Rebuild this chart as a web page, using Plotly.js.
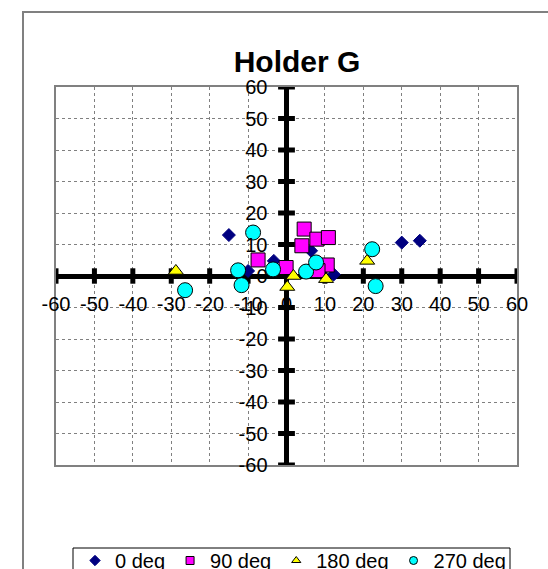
<!DOCTYPE html>
<html>
<head>
<meta charset="utf-8">
<script src="https://cdn.plot.ly/plotly-3.0.1.min.js"></script>
<style>
  html, body { margin: 0; padding: 0; background: #fff; overflow: hidden; }
  #wrap { position: relative; width: 548px; height: 569px; }
  #chart { position: absolute; left: 0; top: 0; width: 548px; height: 569px; }
  #border { position: absolute; left: 22px; top: 11px; width: 700px; height: 700px;
            border: 2px solid #808080; pointer-events: none; box-sizing: border-box; }
</style>
</head>
<body>
<div id="wrap">
  <div id="chart"></div>
  <div id="border"></div>
</div>
<script>
// ---- data ----
const chartTitle = "Holder G";
const seriesNames = ["0 deg", "90 deg", "180 deg", "270 deg"];

const deg0X = [-15, -10, -3.3, 6.4, 12.3, 30, 34.7];
const deg0Y = [13, 1.6, 4.8, 8, 0.5, 10.6, 11.2];

const deg90X = [-7.4, -0.1, 4.6, 4.0, 7.9, 10.9, 10.6, 8.2];
const deg90Y = [5.1, 2.7, 14.9, 9.6, 11.7, 12.2, 3.5, 1.7];

const deg180X = [-28.8, 1.8, 0.2, 10.3, 21];
const deg180Y = [1.6, 0, -3.5, -1, 4.8];

const deg270X = [-8.7, -12.6, -11.7, -3.5, 5.1, 7.7, -26.4, 22.3, 23.2];
const deg270Y = [13.8, 1.8, -2.9, 2.1, 1.4, 4.3, -4.5, 8.5, -3.2];

const tickVals = [-60, -50, -40, -30, -20, -10, 0, 10, 20, 30, 40, 50, 60];
const tickText = tickVals.map(String);
const axisRange = [-60, 60];

// ---- styling ----
const FONT = "Arial, 'Liberation Sans', sans-serif";
const styles = [
  {symbol: "diamond", color: "#000080", line: "#000080", size: 10, lsize: 8},
  {symbol: "square", color: "#FF00FF", line: "#000000", size: 14, lsize: 8},
  {symbol: "triangle-up", color: "#FFFF00", line: "#000000", size: 13, lsize: 8},
  {symbol: "circle", color: "#00FFFF", line: "#000000", size: 15, lsize: 8}
];
const seriesX = [deg0X, deg90X, deg180X, deg270X];
const seriesY = [deg0Y, deg90Y, deg180Y, deg270Y];

const traces = [];
// cross tick marks on the zero axes
traces.push({
  x: tickVals, y: tickVals.map(() => 0), type: "scatter", mode: "markers",
  marker: {symbol: "line-ns", size: 11, line: {width: 5, color: "#000"}},
  showlegend: false, hoverinfo: "skip"
});
traces.push({
  x: tickVals.map(() => 0), y: tickVals, type: "scatter", mode: "markers",
  marker: {symbol: "line-ew", size: 12, line: {width: 5, color: "#000"}},
  showlegend: false, hoverinfo: "skip"
});
// data series
for (let i = 0; i < seriesNames.length; i++) {
  const s = styles[i];
  traces.push({
    x: seriesX[i], y: seriesY[i], type: "scatter", mode: "markers",
    name: seriesNames[i], showlegend: false,
    marker: {symbol: s.symbol, size: s.size, color: s.color, line: {width: 1, color: s.line}}
  });
}
// legend entries (small symbols)
for (let i = 0; i < seriesNames.length; i++) {
  const s = styles[i];
  traces.push({
    x: [null], y: [null], type: "scatter", mode: "markers",
    name: seriesNames[i], showlegend: true,
    marker: {symbol: s.symbol, size: s.lsize, color: s.color, line: {width: 1, color: s.line}}
  });
}
// dummy trace to activate the label axes
traces.push({x: [null], y: [null], xaxis: "x2", yaxis: "y2", type: "scatter",
  mode: "markers", showlegend: false, hoverinfo: "skip"});

const L = 56, R = 31, T = 87, B = 104;
const plotW = 548 - L - R, plotH = 569 - T - B;
const px2x = p => (p - L) / plotW;
const py2y = p => (569 - B - p) / plotH;

const layout = {
  width: 548, height: 569,
  margin: {l: L, r: R, t: T, b: B, autoexpand: false},
  paper_bgcolor: "rgba(0,0,0,0)", plot_bgcolor: "#fff",
  font: {family: FONT, color: "#000"},
  title: {
    text: chartTitle, font: {family: FONT, size: 30, weight: "bold", color: "#000"},
    xref: "paper", x: px2x(297), xanchor: "center",
    yref: "container", y: 1 - 61 / 569, yanchor: "middle"
  },
  showlegend: true,
  legend: {
    orientation: "h", x: px2x(75), xanchor: "left",
    y: py2y(541), yanchor: "top",
    borderwidth: 0, bgcolor: "rgba(0,0,0,0)",
    font: {family: FONT, size: 20, color: "#000"},
    itemwidth: 30
  },
  shapes: [{
    type: "rect", xref: "paper", yref: "paper",
    x0: px2x(73), x1: px2x(510), y0: py2y(548), y1: py2y(600),
    line: {color: "#000", width: 1}, fillcolor: "rgba(0,0,0,0)", layer: "below"
  }],
  xaxis: {
    range: axisRange, tickvals: tickVals, showticklabels: false, ticks: "",
    showgrid: true, gridcolor: "#808080", griddash: "dot", gridwidth: 1,
    showline: true, mirror: true, linecolor: "#808080", linewidth: 2,
    zeroline: true, zerolinecolor: "#000", zerolinewidth: 5, fixedrange: true
  },
  yaxis: {
    range: axisRange, tickvals: tickVals, showticklabels: false, ticks: "",
    showgrid: true, gridcolor: "#808080", griddash: "dot", gridwidth: 1,
    showline: true, mirror: true, linecolor: "#808080", linewidth: 2,
    zeroline: true, zerolinecolor: "#000", zerolinewidth: 5, fixedrange: true
  },
  xaxis2: {
    overlaying: "x", anchor: "free", position: 0.5, side: "bottom",
    range: axisRange, tickvals: tickVals, ticktext: tickText,
    ticks: "outside", ticklen: 10, tickcolor: "rgba(0,0,0,0)",
    showgrid: false, zeroline: false, showline: false,
    tickfont: {family: FONT, size: 20, color: "#000"}, fixedrange: true
  },
  yaxis2: {
    overlaying: "y", anchor: "free", position: 0.5, side: "left",
    range: axisRange, tickvals: tickVals, ticktext: tickText,
    ticks: "outside", ticklen: 15, tickcolor: "rgba(0,0,0,0)",
    showgrid: false, zeroline: false, showline: false,
    tickfont: {family: FONT, size: 20, color: "#000"}, fixedrange: true
  }
};

Plotly.newPlot("chart", traces, layout, {displayModeBar: false, staticPlot: true});
</script>
</body>
</html>
